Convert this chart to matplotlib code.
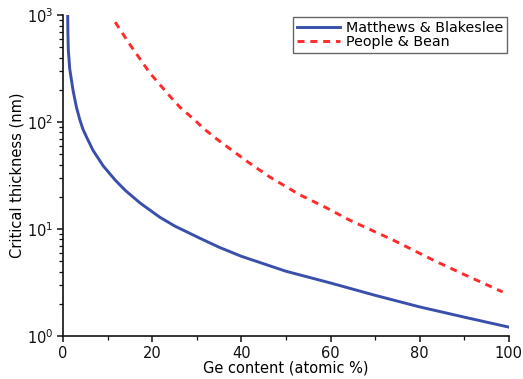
import matplotlib
matplotlib.use("Agg")
import matplotlib.pyplot as plt
from matplotlib.ticker import LogLocator, MultipleLocator, NullFormatter

# Matthews & Blakeslee critical thickness (nm) vs Ge content (%)
mb_ge = [1.05, 1.1, 1.19, 1.5, 2.24, 3.0, 3.8, 4.5, 5.6, 6.7, 9, 11.7, 14,
         17.3, 21.7, 25, 30.7, 35, 40, 50, 60, 70, 80, 90, 100]
mb_hc = [1000, 660, 471, 316, 199, 138, 104, 85, 68, 54.7, 39, 28.7, 22.9,
         17.5, 12.9, 10.7, 8.2, 6.76, 5.56, 4.03, 3.13, 2.4, 1.87, 1.5, 1.21]

# People & Bean critical thickness (nm)
pb_ge = [11.7, 15, 19.5, 24, 26.2, 29.6, 31.4, 35, 41.5, 46.4, 53.1, 59.2,
         64.3, 74, 83, 90, 98.6]
pb_hc = [861, 531, 287, 174, 138, 104, 88, 66.8, 42.3, 30.6, 20.9, 15.7,
         12.1, 7.9, 5.13, 3.75, 2.58]

plt.rcParams["font.family"] = ["DejaVu Sans"]

fig = plt.figure(figsize=(5.23, 3.79), dpi=100)
ax = fig.add_axes([0.1205, 0.1135, 0.8525, 0.8465])

ax.plot(mb_ge, mb_hc, color="#3a4fab", lw=2.1, label="Matthews & Blakeslee")
ax.plot(pb_ge, pb_hc, color="#ff2a2a", lw=2.1, ls=(0, (2.4, 2.0)),
        label="People & Bean")

ax.set_yscale("log")
ax.set_xlim(0, 100)
ax.set_ylim(1, 1000)
ax.xaxis.set_major_locator(MultipleLocator(20))
ax.xaxis.set_minor_locator(MultipleLocator(10))
ax.yaxis.set_major_locator(LogLocator(base=10))
ax.yaxis.set_minor_locator(LogLocator(base=10, subs=range(2, 10)))
ax.yaxis.set_minor_formatter(NullFormatter())

for s in ("top", "right"):
    ax.spines[s].set_visible(False)
for s in ("left", "bottom"):
    ax.spines[s].set_linewidth(1.2)
    ax.spines[s].set_color("#111111")
ax.tick_params(which="major", direction="out", length=4.5, width=1.1,
               labelsize=10.5, colors="#111111", pad=2.5)
ax.tick_params(which="minor", direction="out", length=3, width=0.9,
               colors="#111111")

ax.set_xlabel("Ge content (atomic %)", fontsize=10.5, labelpad=0)
ax.set_ylabel("Critical thickness (nm)", fontsize=10.5, labelpad=2)

leg = ax.legend(loc="upper right", fontsize=10.3, fancybox=False,
                edgecolor="#666666", framealpha=1, handlelength=3,
                borderpad=0.3, labelspacing=0.0, handletextpad=0.4,
                borderaxespad=0.1, bbox_to_anchor=(1.0, 1.0))
leg.get_frame().set_linewidth(1.0)

fig.savefig("out.png", dpi=100)
